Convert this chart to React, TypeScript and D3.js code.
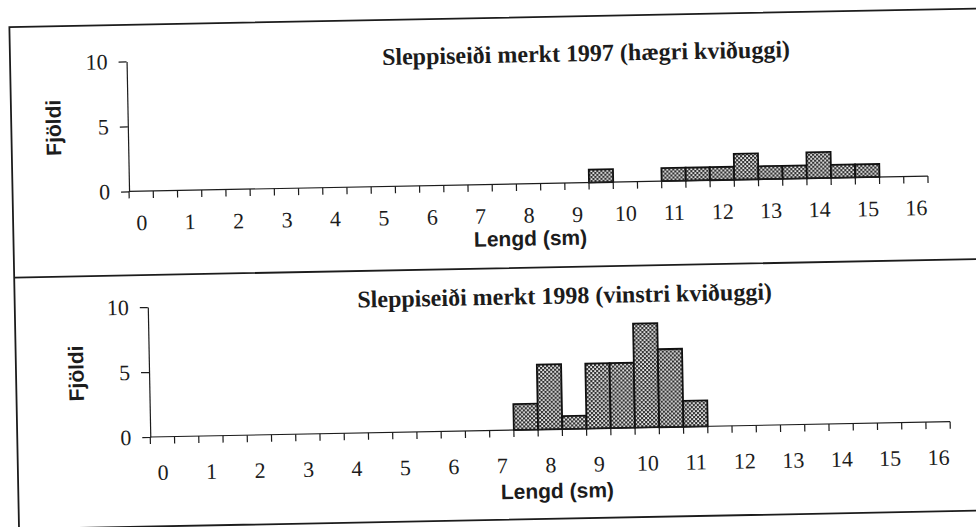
import React, { useEffect, useRef } from 'react';
import * as d3 from 'd3';

// length bins (sm), half-centimetre steps
const lengthBins = [
  '0', '0.5', '1', '1.5', '2', '2.5', '3', '3.5', '4', '4.5', '5',
  '5.5', '6', '6.5', '7', '7.5', '8', '8.5', '9', '9.5', '10',
  '10.5', '11', '11.5', '12', '12.5', '13', '13.5', '14', '14.5', '15',
  '15.5', '16',
];
const tickLabels = [
  '0', '1', '2', '3', '4', '5', '6', '7', '8', '9', '10',
  '11', '12', '13', '14', '15', '16',
];
const count1997 = [
  0, 0, 0, 0, 0, 0, 0, 0, 0, 0,
  0, 0, 0, 0, 0, 0, 0, 0, 0, 1,
  0, 0, 1, 1, 1, 2, 1, 1, 2, 1,
  1, 0, 0,
];
const count1998 = [
  0, 0, 0, 0, 0, 0, 0, 0, 0, 0,
  0, 0, 0, 0, 0, 2, 5, 1, 5, 5,
  8, 6, 2, 0, 0, 0, 0, 0, 0, 0,
  0, 0, 0,
];
const countTicks = [0, 5, 10];

const WIDTH = 976;
const HEIGHT = 527;
const SERIF = "'Liberation Serif', 'Times New Roman', serif";
const SANS = "'Liberation Sans', Arial, sans-serif";
const INK = '#1c1c1c';

const panels = [
  {
    title: 'Sleppiseiði merkt 1997 (hægri kviðuggi)',
    counts: count1997,
    left: 130.5, right: 929.5, base: 184.5, top: 54.5,
    titleX: 590, titleY: 63, labelDy: 39, xTitleX: 531, xTitleDy: 62, yTitleX: 56,
  },
  {
    title: 'Sleppiseiði merkt 1998 (vinstri kviðuggi)',
    counts: count1998,
    left: 147, right: 947, base: 430.5, top: 300.5,
    titleX: 564, titleY: 305, labelDy: 43, xTitleX: 553, xTitleDy: 69, yTitleX: 74,
  },
];

const draw = (node: SVGSVGElement) => {
  const svg = d3.select(node);
  svg.selectAll('*').remove();

  const pat = svg
    .append('defs')
    .append('pattern')
    .attr('id', 'dots')
    .attr('patternUnits', 'userSpaceOnUse')
    .attr('width', 4)
    .attr('height', 4);
  pat.append('rect').attr('width', 4).attr('height', 4).attr('fill', '#333');
  [0.2, 2.2].forEach((o) =>
    pat.append('rect').attr('x', o).attr('y', o).attr('width', 1.8).attr('height', 1.8).attr('fill', '#f0f0f0'),
  );

  // scanned page is a little tilted
  const root = svg.append('g').attr('transform', 'rotate(-1.1 488 263)');

  root
    .append('path')
    .attr('d', 'M995,18H14V520H995M14,268.5H995')
    .attr('fill', 'none')
    .attr('stroke', INK)
    .attr('stroke-width', 1.8);

  panels.forEach((p) => {
    const x = d3.scaleBand<string>().domain(lengthBins).range([p.left, p.right]).padding(0);
    const y = d3.scaleLinear().domain([0, 10]).range([p.base, p.top]);
    const g = root.append('g');

    g.append('text')
      .attr('x', p.titleX)
      .attr('y', p.titleY)
      .attr('text-anchor', 'middle')
      .attr('font-family', SERIF)
      .attr('font-weight', 'bold')
      .attr('font-size', 24)
      .attr('fill', INK)
      .text(p.title);

    g.append('g')
      .selectAll('rect')
      .data(lengthBins.map((bin, i) => ({ bin, n: p.counts[i] })).filter((d) => d.n > 0))
      .join('rect')
      .attr('x', (d) => x(d.bin) || 0)
      .attr('y', (d) => y(d.n))
      .attr('width', x.bandwidth())
      .attr('height', (d) => y(0) - y(d.n))
      .attr('fill', 'url(#dots)')
      .attr('stroke', '#111')
      .attr('stroke-width', 1.8);

    // x axis: ticks on bin edges, labels on whole centimetres
    g.append('line')
      .attr('x1', p.left)
      .attr('x2', p.right)
      .attr('y1', p.base)
      .attr('y2', p.base)
      .attr('stroke', INK)
      .attr('stroke-width', 1.2);
    g.append('g')
      .selectAll('line')
      .data(d3.range(lengthBins.length + 1))
      .join('line')
      .attr('x1', (i) => p.left + i * x.step())
      .attr('x2', (i) => p.left + i * x.step())
      .attr('y1', p.base)
      .attr('y2', p.base + 7)
      .attr('stroke', INK)
      .attr('stroke-width', 1.2);
    g.append('g')
      .selectAll('text')
      .data(tickLabels)
      .join('text')
      .attr('x', (d) => (x(d) || 0) + x.bandwidth() / 2)
      .attr('y', p.base + p.labelDy)
      .attr('text-anchor', 'middle')
      .attr('font-family', SERIF)
      .attr('font-size', 22)
      .attr('fill', INK)
      .text((d) => d);

    g.append('g')
      .attr('transform', `translate(${p.left},0)`)
      .call(d3.axisLeft(y).tickValues(countTicks).tickSize(8).tickSizeOuter(0).tickPadding(11))
      .call((a) => a.attr('font-family', SERIF).attr('font-size', 22))
      .call((a) => a.selectAll('line,path').attr('stroke', INK).attr('stroke-width', 1.2))
      .call((a) => a.selectAll('text').attr('fill', INK));

    g.append('text')
      .attr('x', p.xTitleX)
      .attr('y', p.base + p.xTitleDy)
      .attr('text-anchor', 'middle')
      .attr('font-family', SANS)
      .attr('font-weight', 'bold')
      .attr('font-size', 21)
      .attr('fill', INK)
      .text('Lengd (sm)');

    g.append('text')
      .attr('transform', `translate(${p.yTitleX},${y(5)}) rotate(-90)`)
      .attr('text-anchor', 'middle')
      .attr('dominant-baseline', 'central')
      .attr('font-family', SANS)
      .attr('font-weight', 'bold')
      .attr('font-size', 21)
      .attr('fill', INK)
      .text('Fjöldi');
  });
};

const App = () => {
  const ref = useRef<SVGSVGElement>(null);
  useEffect(() => {
    if (ref.current) draw(ref.current);
  }, []);
  return (
    <svg
      ref={ref}
      width={WIDTH}
      height={HEIGHT}
      viewBox={`0 0 ${WIDTH} ${HEIGHT}`}
      style={{ position: 'absolute', left: 0, top: 0, background: '#fff' }}
    />
  );
};

export default App;
